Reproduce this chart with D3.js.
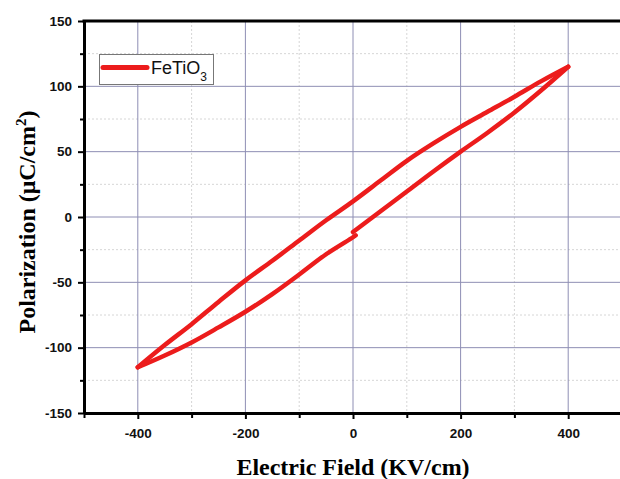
<!DOCTYPE html>
<html>
<head>
<meta charset="utf-8">
<script src="https://cdn.jsdelivr.net/npm/d3@7"></script>
<style>
  body { margin: 0; background: #fff; }
  svg { display: block; }
</style>
</head>
<body>
<div id="vis"></div>
<script>
var fieldRise = [0, 50, 100, 150, 200, 250, 300, 350, 400];
var polRise = [-11.5, 4, 19.5, 35, 50, 64.5, 80, 97, 115];

var fieldFall = [400, 350, 300, 250, 200, 150, 100, 50, 0, -50, -100, -150, -200, -250, -300, -350, -400];
var polFall = [115, 104, 92, 80.5, 69, 56.5, 43, 27.5, 12, -2.5, -18, -33.5, -48.5, -65, -82, -98, -115];

var fieldBack = [-400, -350, -300, -250, -200, -150, -100, -50, 0, 5];
var polBack = [-115, -106, -96, -84.5, -72.5, -59, -44, -28.5, -15.5, -14];

var xMajorTicks = [-400, -200, 0, 200, 400];
var xMinorTicks = [-500, -300, -100, 100, 300, 500];
var yMajorTicks = [-150, -100, -50, 0, 50, 100, 150];
var yMinorTicks = [-125, -75, -25, 25, 75, 125];

var seriesName = 'FeTiO';
var seriesSub = '3';

var width = 620;
var height = 479;
var margin = { top: 21, left: 84, bottom: 66, right: -2 };

var svg = d3.select('#vis').append('svg')
  .attr('width', width)
  .attr('height', height);

var x = d3.scaleLinear()
  .domain([-500, 500])
  .range([margin.left, width - margin.right]);

var y = d3.scaleLinear()
  .domain([-150, 150])
  .range([height - margin.bottom, margin.top]);

// plain hyphen minus, like the original software
var plainFormat = function (d) { return String(d); };

// grid: solid blue-grey on major ticks, dotted grey on minor ones
var grid = svg.append('g').attr('class', 'grid');

grid.selectAll('.vmin').data(xMinorTicks.filter(function (d) { return d > -500 && d < 500; }))
  .enter().append('line')
  .attr('x1', function (d) { return x(d); })
  .attr('x2', function (d) { return x(d); })
  .attr('y1', y(150)).attr('y2', y(-150))
  .attr('stroke', '#d6d6d6').attr('stroke-width', 1)
  .attr('stroke-dasharray', '2,2');

grid.selectAll('.hmin').data(yMinorTicks)
  .enter().append('line')
  .attr('x1', x(-500)).attr('x2', width)
  .attr('y1', function (d) { return y(d); })
  .attr('y2', function (d) { return y(d); })
  .attr('stroke', '#d6d6d6').attr('stroke-width', 1)
  .attr('stroke-dasharray', '2,2');

grid.selectAll('.vmaj').data(xMajorTicks)
  .enter().append('line')
  .attr('x1', function (d) { return x(d); })
  .attr('x2', function (d) { return x(d); })
  .attr('y1', y(150)).attr('y2', y(-150))
  .attr('stroke', '#8e8eb4').attr('stroke-width', 1);

grid.selectAll('.hmaj').data(yMajorTicks.filter(function (d) { return d > -150 && d < 150; }))
  .enter().append('line')
  .attr('x1', x(-500)).attr('x2', width)
  .attr('y1', function (d) { return y(d); })
  .attr('y2', function (d) { return y(d); })
  .attr('stroke', '#8e8eb4').attr('stroke-width', 1);

// the loop itself, one path per branch so the tips stay sharp
var line = d3.line()
  .x(function (d) { return x(d[0]); })
  .y(function (d) { return y(d[1]); })
  .curve(d3.curveCatmullRom);

var branches = [
  d3.zip(fieldRise, polRise),
  d3.zip(fieldFall, polFall),
  d3.zip(fieldBack, polBack)
];

svg.append('g').attr('class', 'loop')
  .selectAll('path').data(branches)
  .enter().append('path')
  .attr('d', line)
  .attr('fill', 'none')
  .attr('stroke', '#ec1c1c')
  .attr('stroke-width', 4.5)
  .attr('stroke-linejoin', 'round')
  .attr('stroke-linecap', 'round');

// axes
var tickFont = 'Liberation Sans, Arial, sans-serif';

svg.append('g')
  .attr('transform', 'translate(0,' + y(-150) + ')')
  .call(d3.axisBottom(x).tickValues(xMajorTicks).tickFormat(plainFormat)
    .tickSize(6).tickSizeOuter(0).tickPadding(9));
svg.append('g')
  .attr('transform', 'translate(0,' + y(-150) + ')')
  .call(d3.axisBottom(x).tickValues(xMinorTicks).tickSize(5).tickFormat(''))
  .select('.domain').remove();

svg.append('g')
  .attr('transform', 'translate(' + x(-500) + ',0)')
  .call(d3.axisLeft(y).tickValues(yMajorTicks).tickFormat(plainFormat)
    .tickSize(6).tickSizeOuter(0).tickPadding(6));
svg.append('g')
  .attr('transform', 'translate(' + x(-500) + ',0)')
  .call(d3.axisLeft(y).tickValues(yMinorTicks).tickSize(4).tickFormat(''))
  .select('.domain').remove();

svg.selectAll('.tick line').attr('stroke', '#000').attr('stroke-width', 2);
svg.selectAll('.domain').attr('stroke', '#000').attr('stroke-width', 3);
svg.selectAll('.tick text')
  .attr('font-family', tickFont)
  .attr('font-weight', 'bold')
  .attr('font-size', 13.5)
  .attr('fill', '#111');

// top frame line
svg.append('line')
  .attr('x1', x(-500) - 1.5).attr('x2', width)
  .attr('y1', y(150)).attr('y2', y(150))
  .attr('stroke', '#000').attr('stroke-width', 3);

// axis titles
svg.append('text')
  .attr('x', 353)
  .attr('y', 475)
  .attr('text-anchor', 'middle')
  .attr('font-family', 'Liberation Serif, Times New Roman, serif')
  .attr('font-weight', 'bold')
  .attr('font-size', 24)
  .text('Electric Field (KV/cm)');

var yTitle = svg.append('text')
  .attr('transform', 'translate(35,' + ((y(150) + y(-150)) / 2 + 5) + ') rotate(-90)')
  .attr('text-anchor', 'middle')
  .attr('font-family', 'Liberation Serif, Times New Roman, serif')
  .attr('font-weight', 'bold')
  .attr('font-size', 24);
yTitle.append('tspan').text('Polarization (\u03bcC/cm');
yTitle.append('tspan').attr('font-size', 15).attr('dy', -9).text('2');
yTitle.append('tspan').attr('dy', 9).text(')');

// legend
var legend = svg.append('g').attr('class', 'legend');
legend.append('rect')
  .attr('x', 99.5).attr('y', 54.5)
  .attr('width', 114).attr('height', 30)
  .attr('fill', '#fff')
  .attr('stroke', '#777').attr('stroke-width', 1);
legend.append('line')
  .attr('x1', 103).attr('x2', 147)
  .attr('y1', 67.5).attr('y2', 67.5)
  .attr('stroke', '#ec1c1c').attr('stroke-width', 5)
  .attr('stroke-linecap', 'round');
var legendText = legend.append('text')
  .attr('x', 151)
  .attr('y', 74)
  .attr('font-family', tickFont)
  .attr('font-size', 18)
  .attr('fill', '#111');
legendText.append('tspan').text(seriesName);
legendText.append('tspan').attr('font-size', 12).attr('dy', 7).text(seriesSub);
</script>
</body>
</html>
